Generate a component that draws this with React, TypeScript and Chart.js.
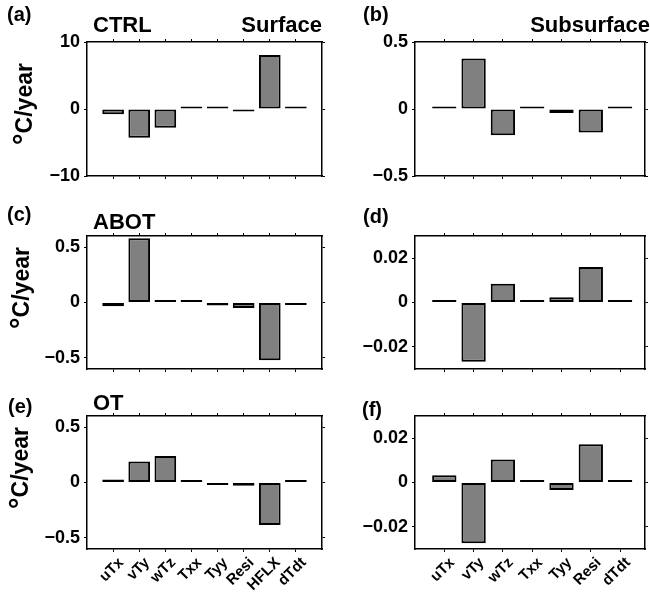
import React, { useEffect, useRef } from "react";
import { Chart, registerables } from "chart.js";

Chart.register(...registerables);

// ---------- data ----------
const surfaceCategories = ["uTx", "vTy", "wTz", "Txx", "Tyy", "Resi", "HFLX", "dTdt"];
const subsurfaceCategories = ["uTx", "vTy", "wTz", "Txx", "Tyy", "Resi", "dTdt"];

const ctrlSurface = [-0.8, -4.3, -2.8, 0.05, 0.1, -0.2, 8.05, 0.03];
const ctrlSubsurface = [0.017, 0.377, -0.195, 0.003, -0.03, -0.175, 0.005];
const abotSurface = [-0.033, 0.58, 0.022, 0.005, -0.028, -0.05, -0.52, -0.012];
const abotSubsurface = [0.0002, -0.0267, 0.0085, 0.0002, 0.0024, 0.016, 0.0002];
const otSurface = [0.027, 0.19, 0.24, 0.003, -0.02, -0.03, -0.383, 0.018];
const otSubsurface = [0.0033, -0.0274, 0.0104, 0.0003, -0.0034, 0.0173, 0.0005];

const ticksCtrlSurface = [-10, 0, 10];
const ticksCtrlSubsurface = [-0.5, 0, 0.5];
const ticksSurface = [-0.5, 0, 0.5];
const ticksSubsurface = [-0.02, 0, 0.02];

const rangeCtrlSurface = [-10, 10];
const rangeCtrlSubsurface = [-0.5, 0.5];
const rangeSurface = [-0.6, 0.6];
const rangeSubsurface = [-0.03, 0.03];

const xRangeSurface = [0, 9];
const xRangeSubsurface = [0, 7.85];

const panelLabels = ["(a)", "(b)", "(c)", "(d)", "(e)", "(f)"];
const rowTitles = ["CTRL", "ABOT", "OT"];
const columnTitles = ["Surface", "Subsurface"];
const yTitle = "°C/year";

// ---------- layout ----------
const FONT = "'Liberation Sans', Arial, Helvetica, sans-serif";
const Y_W = 60;
const T_H = 18;

type Box = { l: number; t: number; r: number; b: number };

const fmt = (v: number) => {
  if (v === 0) return "0";
  return (v < 0 ? "\u2212" : "") + String(Math.abs(v));
};

function Panel(props: {
  categories: string[];
  values: number[];
  ticks: number[];
  range: number[];
  xRange: number[];
  box: Box;
  showX: boolean;
  rightW: number;
}) {
  const ref = useRef<HTMLCanvasElement | null>(null);
  const { categories, values, ticks, range, xRange, box, showX, rightW } = props;
  const B_H = showX ? 44 : 18;
  const width = Y_W + (box.r - box.l) + rightW;
  const height = T_H + (box.b - box.t) + B_H;

  useEffect(() => {
    if (!ref.current) return;
    const grid = {
      display: true,
      drawOnChartArea: false,
      drawTicks: true,
      tickLength: 3,
      tickColor: "#000",
      tickWidth: 1,
      offset: false,
    };
    const border = { display: true, color: "#000", width: 1.5 };
    const xTicks = (s: any) => {
      s.ticks = categories.map((_, i) => ({ value: i + 1 }));
    };
    const yTicks = (s: any) => {
      s.ticks = ticks.map((v) => ({ value: v }));
    };
    const chart = new Chart(ref.current, {
      type: "bar",
      data: {
        datasets: [
          {
            data: categories.map((_, i) => ({ x: i + 1, y: values[i] })),
            backgroundColor: "#808080",
            borderColor: "#000",
            borderWidth: 2,
            borderSkipped: false,
            barPercentage: 0.83,
            categoryPercentage: 1,
            minBarLength: 2.5,
          } as any,
        ],
      },
      options: {
        animation: false,
        responsive: false,
        maintainAspectRatio: false,
        layout: { padding: 0 },
        plugins: {
          legend: { display: false },
          tooltip: { enabled: false },
          title: { display: false },
        },
        scales: {
          x: {
            type: "linear",
            position: "bottom",
            min: xRange[0],
            max: xRange[1],
            offset: false,
            afterBuildTicks: xTicks,
            afterFit: (s: any) => {
              s.height = B_H;
            },
            ticks: {
              display: showX,
              autoSkip: false,
              minRotation: 45,
              maxRotation: 45,
              padding: 2,
              labelOffset: 8,
              color: "#000",
              font: { family: FONT, size: 15, weight: "bold" },
              callback: (v: any) => categories[Math.round(Number(v)) - 1] ?? "",
            },
            grid,
            border,
          },
          x2: {
            type: "linear",
            position: "top",
            min: xRange[0],
            max: xRange[1],
            offset: false,
            afterBuildTicks: xTicks,
            afterFit: (s: any) => {
              s.height = T_H;
            },
            ticks: { display: false },
            grid,
            border,
          },
          y: {
            type: "linear",
            position: "left",
            min: range[0],
            max: range[1],
            afterBuildTicks: yTicks,
            afterFit: (s: any) => {
              s.width = Y_W;
            },
            ticks: {
              padding: 4,
              color: "#000",
              font: { family: FONT, size: 18, weight: "bold" },
              callback: (v: any) => fmt(Number(v)),
            },
            grid,
            border,
          },
          y2: {
            type: "linear",
            position: "right",
            min: range[0],
            max: range[1],
            afterBuildTicks: yTicks,
            afterFit: (s: any) => {
              s.width = rightW;
            },
            ticks: { display: false },
            grid,
            border,
          },
        },
      } as any,
    });
    chart.draw();
    return () => chart.destroy();
  }, []);

  return (
    <canvas
      ref={ref}
      width={width}
      height={height}
      style={{
        position: "absolute",
        left: box.l - Y_W,
        top: box.t - T_H,
        width,
        height,
      }}
    />
  );
}

const textBase: React.CSSProperties = {
  position: "absolute",
  fontFamily: FONT,
  fontWeight: "bold",
  color: "#000",
  whiteSpace: "nowrap",
  lineHeight: 1,
};

function Text(props: { x: number; y: number; size: number; text: string; align?: "left" | "right" }) {
  const { x, y, size, text, align } = props;
  if (align === "right") {
    return (
      <div style={{ ...textBase, fontSize: size, left: x - 300, top: y, width: 300, textAlign: "right" }}>
        {text}
      </div>
    );
  }
  return <div style={{ ...textBase, fontSize: size, left: x, top: y }}>{text}</div>;
}

function YTitle(props: { cx: number; cy: number }) {
  return (
    <div
      style={{
        ...textBase,
        fontSize: 23,
        left: props.cx,
        top: props.cy,
        transform: "translate(-50%, -50%) rotate(-90deg)",
      }}
    >
      <span style={{ fontSize: "1.25em", verticalAlign: "-0.05em" }}>{yTitle.slice(0, 1)}</span>
      {yTitle.slice(1)}
    </div>
  );
}

const leftCol = { l: 87, r: 322 };
const rightCol = { l: 415, r: 645 };
const rows = [
  { t: 42, b: 176 },
  { t: 236, b: 369 },
  { t: 416, b: 549 },
];

export default function App() {
  return (
    <div
      style={{
        position: "absolute",
        left: 0,
        top: 0,
        width: 650,
        height: 593,
        overflow: "hidden",
        background: "#fff",
      }}
    >
      <Panel categories={surfaceCategories} values={ctrlSurface} ticks={ticksCtrlSurface} range={rangeCtrlSurface} xRange={xRangeSurface} box={{ ...leftCol, ...rows[0] }} showX={false} rightW={8} />
      <Panel categories={subsurfaceCategories} values={ctrlSubsurface} ticks={ticksCtrlSubsurface} range={rangeCtrlSubsurface} xRange={xRangeSubsurface} box={{ ...rightCol, ...rows[0] }} showX={false} rightW={5} />
      <Panel categories={surfaceCategories} values={abotSurface} ticks={ticksSurface} range={rangeSurface} xRange={xRangeSurface} box={{ ...leftCol, ...rows[1] }} showX={false} rightW={8} />
      <Panel categories={subsurfaceCategories} values={abotSubsurface} ticks={ticksSubsurface} range={rangeSubsurface} xRange={xRangeSubsurface} box={{ ...rightCol, ...rows[1] }} showX={false} rightW={5} />
      <Panel categories={surfaceCategories} values={otSurface} ticks={ticksSurface} range={rangeSurface} xRange={xRangeSurface} box={{ ...leftCol, ...rows[2] }} showX={true} rightW={8} />
      <Panel categories={subsurfaceCategories} values={otSubsurface} ticks={ticksSubsurface} range={rangeSubsurface} xRange={xRangeSubsurface} box={{ ...rightCol, ...rows[2] }} showX={true} rightW={5} />

      <Text x={7} y={4} size={20} text={panelLabels[0]} />
      <Text x={363} y={4} size={20} text={panelLabels[1]} />
      <Text x={7} y={204} size={20} text={panelLabels[2]} />
      <Text x={363} y={206} size={20} text={panelLabels[3]} />
      <Text x={8} y={396} size={20} text={panelLabels[4]} />
      <Text x={362} y={399} size={20} text={panelLabels[5]} />

      <Text x={93} y={14} size={22} text={rowTitles[0]} />
      <Text x={93} y={211} size={22} text={rowTitles[1]} />
      <Text x={93} y={392} size={22} text={rowTitles[2]} />
      <Text x={322} y={14} size={22} text={columnTitles[0]} align="right" />
      <Text x={650} y={14} size={22} text={columnTitles[1]} align="right" />

      <YTitle cx={24} cy={104} />
      <YTitle cx={21} cy={288} />
      <YTitle cx={20} cy={468} />
    </div>
  );
}
